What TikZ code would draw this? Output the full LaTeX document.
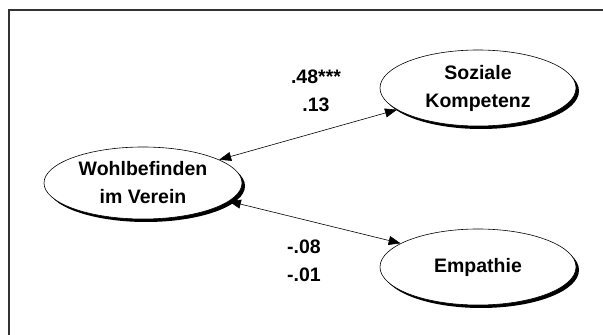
\documentclass[tikz,border=0pt]{standalone}
\usepackage{fontspec}
\setmainfont{Liberation Sans}
\usetikzlibrary{shapes.geometric,arrows.meta}
\begin{document}
\begin{tikzpicture}[x=1pt,y=1pt,
  latent/.style={ellipse,draw=black,line width=0.6pt,fill=white,inner sep=0pt,
    align=center,font=\fontsize{19.5}{28}\selectfont\bfseries},
  shade/.style={ellipse,fill=black,draw=none,inner sep=0pt},
  coef/.style={align=center,inner sep=0pt,font=\fontsize{19.5}{28}\selectfont\bfseries},
  link/.style={line width=0.6pt,{Triangle[length=12pt,width=9pt]}-{Triangle[length=12pt,width=9pt]}}]
\useasboundingbox (0,0) rectangle (603,335);
\fill[white] (0,0) rectangle (603,335);
\draw[line width=2pt,color=black!80] (8.5,-5) -- (8.5,325) -- (610,325);
% shadows
\node[shade,minimum width=198pt,minimum height=72pt] at (146,149) {};
\node[shade,minimum width=196pt,minimum height=76pt] at (481,244) {};
\node[shade,minimum width=196pt,minimum height=76pt] at (481,65) {};
% ellipses
\node[latent,minimum width=198pt,minimum height=72pt] (w) at (143,152) {Wohlbefinden\\im Verein};
\node[latent,minimum width=196pt,minimum height=76pt] (s) at (478,247) {Soziale\\Kompetenz};
\node[latent,minimum width=196pt,minimum height=76pt] (e) at (478,68) {Empathie};
% connectors
\draw[link] (w.17) -- (s.195);
\draw[link] (w.-12) -- (e.163);
% coefficients
\node[coef] (c1) at (316,244) {.48***\\.13};
\node[coef] (c2) at (304,74) {-.08\\-.01};
\end{tikzpicture}
\end{document}
